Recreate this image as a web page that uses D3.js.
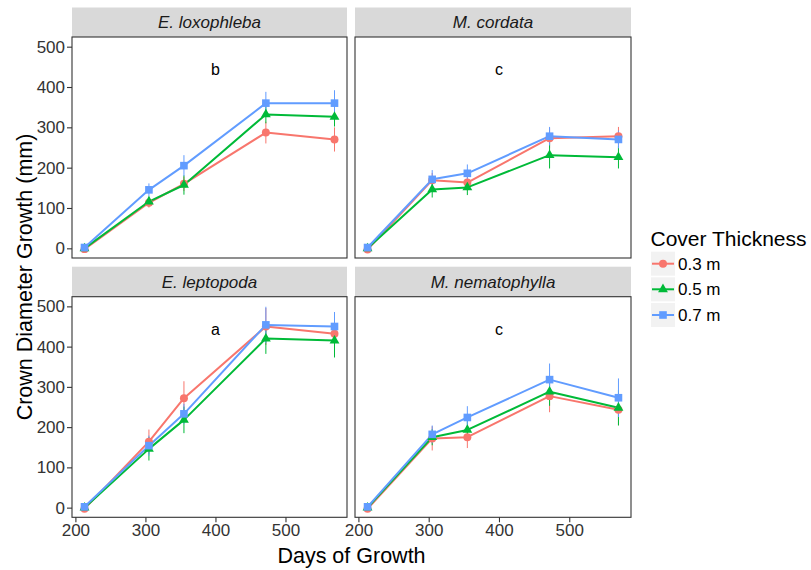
<!DOCTYPE html>
<html>
<head>
<meta charset="utf-8">
<script src="https://cdn.jsdelivr.net/npm/d3@7"></script>
<style>
  html, body { margin: 0; padding: 0; background: #fff; }
  svg { display: block; font-family: "Liberation Sans", Arial, sans-serif; }
</style>
</head>
<body>
<svg id="chart" width="811" height="570"></svg>
<script>
// Sampling days shared by every species
const days = [213, 305, 355, 472, 570];

// Cover thickness treatments
const thickness = ["0.3 m", "0.5 m", "0.7 m"];
const colours = ["#F8766D", "#00BA38", "#619CFF"];
const shapes = [d3.symbolCircle, d3.symbolTriangle, d3.symbolSquare];
const shapeSizes = [50, 42, 58];

// Facets (species), with their grouping letter
const species = ["E. loxophleba", "M. cordata", "E. leptopoda", "M. nematophylla"];
const letters = ["b", "c", "a", "c"];

// Mean crown diameter growth (mm), per species, per thickness
const meanLoxophleba = [[-2, 113, 160, 287, 270], [0, 116, 157, 332, 326], [2, 145, 205, 360, 360]];
const meanCordata = [[-3, 169, 163, 273, 278], [0, 146, 151, 231, 226], [2, 171, 186, 278, 270]];
const meanLeptopoda = [[-3, 164, 272, 450, 432], [0, 146, 218, 420, 415], [2, 154, 233, 454, 450]];
const meanNematophylla = [[-3, 172, 175, 277, 243], [0, 175, 193, 288, 248], [2, 182, 224, 318, 273]];

// Standard errors (mm), same layout
const seLoxophleba = [[3, 12, 18, 27, 30], [3, 12, 24, 22, 24], [3, 16, 26, 28, 32]];
const seCordata = [[3, 18, 20, 25, 23], [3, 20, 19, 33, 28], [3, 23, 22, 23, 22]];
const seLeptopoda = [[3, 30, 42, 46, 40], [3, 29, 33, 38, 42], [3, 25, 25, 45, 36]];
const seNematophylla = [[3, 30, 27, 40, 38], [3, 20, 22, 35, 44], [3, 22, 28, 40, 48]];

const xTicks = [200, 300, 400, 500];
const yTicks = [0, 100, 200, 300, 400, 500];
const letterPos = { x: 400, y: 443 };

const means = [meanLoxophleba, meanCordata, meanLeptopoda, meanNematophylla];
const ses = [seLoxophleba, seCordata, seLeptopoda, seNematophylla];

const svg = d3.select("#chart");

// Facet grid geometry
const colX = [[72, 347], [355, 631]];
const rowY = [{ strip: 7.5, top: 37, bottom: 258 }, { strip: 266.7, top: 296.7, bottom: 517.3 }];

const tickFont = 17;
const ink = "#333333";

species.forEach((name, i) => {
  const col = i % 2, row = Math.floor(i / 2);
  const [x0, x1] = colX[col];
  const r = rowY[row];

  const x = d3.scaleLinear().domain([195.15, 587.85]).range([x0, x1]);
  const y = d3.scaleLinear().domain([-24, 524]).range([r.bottom, r.top]);

  const g = svg.append("g");

  // strip
  g.append("rect")
    .attr("x", x0).attr("y", r.strip)
    .attr("width", x1 - x0).attr("height", r.top - r.strip)
    .attr("fill", "#D9D9D9");
  g.append("text")
    .attr("x", (x0 + x1) / 2).attr("y", (r.strip + r.top) / 2)
    .attr("dy", "0.35em")
    .attr("text-anchor", "middle")
    .attr("font-style", "italic")
    .attr("font-size", tickFont)
    .attr("fill", "#1A1A1A")
    .text(name);

  const m = means[i], s = ses[i];

  // error bars
  m.forEach((series, k) => {
    g.append("g").selectAll("line")
      .data(series.map((v, j) => ({ d: days[j], v, e: s[k][j] })))
      .join("line")
      .attr("x1", d => x(d.d)).attr("x2", d => x(d.d))
      .attr("y1", d => y(d.v - d.e)).attr("y2", d => y(d.v + d.e))
      .attr("stroke", colours[k]).attr("stroke-width", 1);
  });

  // lines
  const line = d3.line().x((v, j) => x(days[j])).y(v => y(v));
  m.forEach((series, k) => {
    g.append("path")
      .attr("d", line(series))
      .attr("fill", "none")
      .attr("stroke", colours[k])
      .attr("stroke-width", 2)
      .attr("stroke-linejoin", "round");
  });

  // points
  m.forEach((series, k) => {
    const sym = d3.symbol().type(shapes[k]).size(shapeSizes[k]);
    g.append("g").selectAll("path")
      .data(series)
      .join("path")
      .attr("transform", (v, j) => `translate(${x(days[j])},${y(v)})`)
      .attr("d", sym)
      .attr("fill", colours[k]);
  });

  // grouping letter
  g.append("text")
    .attr("x", x(letterPos.x)).attr("y", y(letterPos.y))
    .attr("dy", "0.35em")
    .attr("text-anchor", "middle")
    .attr("font-size", 16)
    .attr("fill", "#000")
    .text(letters[i]);

  // panel border
  g.append("rect")
    .attr("x", x0).attr("y", r.top)
    .attr("width", x1 - x0).attr("height", r.bottom - r.top)
    .attr("fill", "none")
    .attr("stroke", ink).attr("stroke-width", 1.1);

  // axes
  if (col === 0) {
    const ax = g.append("g")
      .attr("transform", `translate(${x0},0)`)
      .call(d3.axisLeft(y).tickValues(yTicks).tickSize(5).tickPadding(2));
    ax.select(".domain").remove();
    ax.selectAll(".tick line").attr("stroke", ink).attr("stroke-width", 1.1);
    ax.selectAll(".tick text").attr("font-size", tickFont).attr("fill", ink)
      .attr("font-family", "Liberation Sans, Arial, sans-serif");
  }
  if (row === 1) {
    const ax = g.append("g")
      .attr("transform", `translate(0,${r.bottom})`)
      .call(d3.axisBottom(x).tickValues(xTicks).tickSize(5).tickPadding(2));
    ax.select(".domain").remove();
    ax.selectAll(".tick line").attr("stroke", ink).attr("stroke-width", 1.1);
    ax.selectAll(".tick text").attr("font-size", tickFont).attr("fill", ink)
      .attr("font-family", "Liberation Sans, Arial, sans-serif");
  }
});

// axis titles
svg.append("text")
  .attr("x", (72 + 631) / 2).attr("y", 562.5)
  .attr("text-anchor", "middle")
  .attr("font-size", 21.5)
  .attr("fill", "#000")
  .text("Days of Growth");

svg.append("text")
  .attr("transform", `translate(32,277) rotate(-90)`)
  .attr("text-anchor", "middle")
  .attr("font-size", 21.5)
  .attr("fill", "#000")
  .text("Crown Diameter Growth (mm)");

// legend
const legend = svg.append("g");
legend.append("text")
  .attr("x", 650.5).attr("y", 245.5)
  .attr("font-size", 21)
  .attr("fill", "#000")
  .text("Cover Thickness");

const keyY = [251.7, 277.3, 303];
thickness.forEach((lab, k) => {
  const ky = keyY[k];
  legend.append("rect")
    .attr("x", 651).attr("y", ky)
    .attr("width", 24).attr("height", 24)
    .attr("fill", "#F2F2F2");
  legend.append("line")
    .attr("x1", 652).attr("x2", 674)
    .attr("y1", ky + 12).attr("y2", ky + 12)
    .attr("stroke", colours[k]).attr("stroke-width", 2);
  legend.append("path")
    .attr("transform", `translate(663,${ky + 12})`)
    .attr("d", d3.symbol().type(shapes[k]).size(shapeSizes[k]))
    .attr("fill", colours[k]);
  legend.append("text")
    .attr("x", 678).attr("y", ky + 12)
    .attr("dy", "0.35em")
    .attr("font-size", 17)
    .attr("fill", "#000")
    .text(lab);
});
</script>
</body>
</html>
